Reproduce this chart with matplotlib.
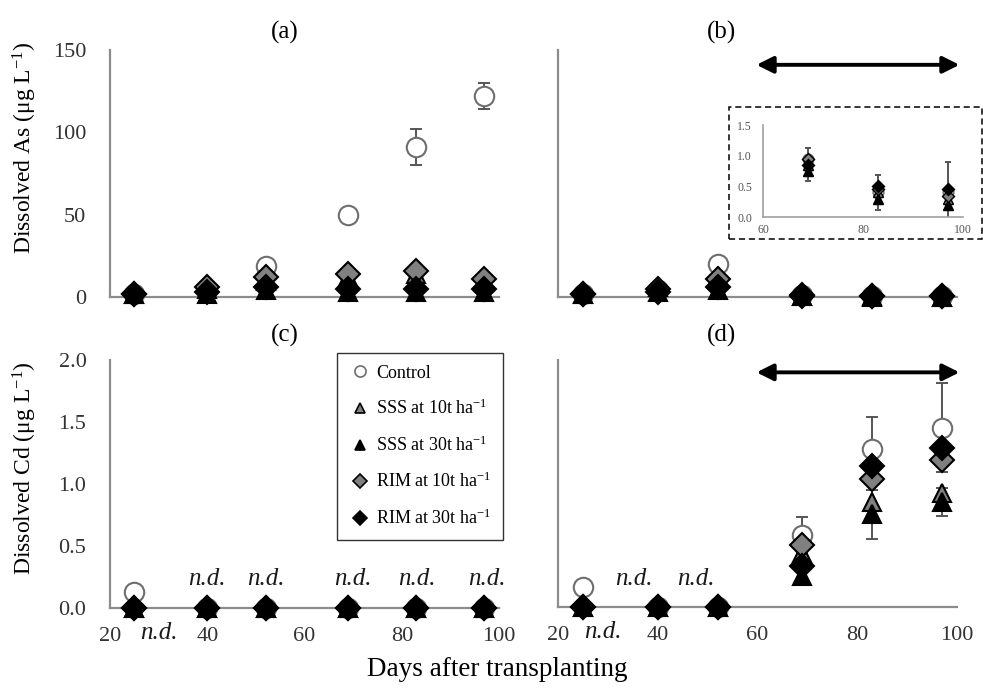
import matplotlib
matplotlib.use("Agg")
import matplotlib.pyplot as plt
from matplotlib.lines import Line2D
from matplotlib.patches import Rectangle
import numpy as np

plt.rcParams['font.family'] = ['Liberation Serif', 'DejaVu Serif']
plt.rcParams['mathtext.fontset'] = 'custom'
plt.rcParams['mathtext.rm'] = 'Liberation Serif'
plt.rcParams['mathtext.it'] = 'Liberation Serif:italic'

# ---------------- data ----------------
days = [25, 40, 52, 69, 83, 97]
series = ["Control", "SSS at 10t ha$^{-1}$", "SSS at 30t ha$^{-1}$",
          "RIM at 10t ha$^{-1}$", "RIM at 30t ha$^{-1}$"]

# (a) dissolved As, no treatment window
as_a_control = [2, 4, 19, 50, 91, 122]
as_a_control_err = [0, 0, 0, 3, 11, 8]
as_a_sss10 = [2, 5, 10, 12, 14, 9]
as_a_sss30 = [2, 2, 4, 3, 3, 3]
as_a_rim10 = [2, 6, 12, 14, 16, 11]
as_a_rim30 = [2, 3, 6, 5, 5, 5]

# (b) dissolved As, with treatment window
as_b_control = [2, 4, 20, 0.95, 0.40, 0.40]
as_b_control_err = [0, 0, 0, 0.17, 0.29, 0.50]
as_b_sss10 = [2, 6, 13, 0.85, 0.40, 0.30]
as_b_sss30 = [2, 3, 4, 0.75, 0.30, 0.20]
as_b_sss30_err = [0, 0, 0, 0.17, 0, 0]
as_b_rim10 = [2, 5, 11, 0.95, 0.45, 0.35]
as_b_rim30 = [2, 3, 6, 0.85, 0.50, 0.45]

# (c) dissolved Cd, no treatment window
cd_c_control = [0.13, 0, 0, 0, 0, 0]
cd_c_sss10 = [0, 0, 0, 0, 0, 0]
cd_c_sss30 = [0, 0, 0, 0, 0, 0]
cd_c_rim10 = [0, 0, 0, 0, 0, 0]
cd_c_rim30 = [0, 0, 0, 0, 0, 0]

# (d) dissolved Cd, with treatment window
cd_d_control = [0.16, 0, 0, 0.58, 1.28, 1.45]
cd_d_control_err = [0, 0, 0, 0.15, 0.26, 0.36]
cd_d_sss10 = [0, 0, 0, 0.44, 0.85, 0.92]
cd_d_sss30 = [0, 0, 0, 0.25, 0.75, 0.85]
cd_d_sss30_err = [0, 0, 0, 0.06, 0.20, 0.11]
cd_d_rim10 = [0, 0, 0, 0.50, 1.04, 1.19]
cd_d_rim30 = [0, 0, 0, 0.33, 1.14, 1.29]

inset_days = [69, 83, 97]

as_yticks = [0, 50, 100, 150]
cd_yticks = [0.0, 0.5, 1.0, 1.5, 2.0]
x_ticks = [20, 40, 60, 80, 100]
inset_yticks = [0.0, 0.5, 1.0, 1.5]
inset_xticks = [60, 80, 100]

# ---------------- styles ----------------
GRAY = '#808080'
SPINE = '#8c8c8c'
TICKC = '#333333'
styles = [
    dict(marker='o', mfc='white', mec='#6e6e6e', mew=1.5, ms=14),
    dict(marker='^', mfc=GRAY, mec='black', mew=1.5, ms=13),
    dict(marker='^', mfc='black', mec='black', mew=1.5, ms=13),
    dict(marker='D', mfc=GRAY, mec='black', mew=1.5, ms=12),
    dict(marker='D', mfc='black', mec='black', mew=1.5, ms=12),
]

W, H = 983, 690
fig = plt.figure(figsize=(W / 100, H / 100), dpi=100)


def px_axes(x0, x1, ytop, ybot):
    return fig.add_axes([x0 / W, 1 - ybot / H, (x1 - x0) / W, (ybot - ytop) / H])


def style_axes(ax, ylim, yticks, ylabels, xlabels, yfmt):
    ax.set_xlim(20, 100)
    ax.set_ylim(*ylim)
    for s in ['top', 'right']:
        ax.spines[s].set_visible(False)
    for s in ['left', 'bottom']:
        ax.spines[s].set_color(SPINE)
        ax.spines[s].set_linewidth(1.6)
    ax.set_xticks(x_ticks)
    ax.set_yticks(yticks)
    ax.tick_params(length=0, labelsize=16, colors=TICKC, pad=14)
    ax.tick_params(axis='y', pad=17)
    if ylabels:
        ax.set_yticklabels([yfmt.format(v) for v in yticks])
    else:
        ax.set_yticklabels([])
    if xlabels:
        ax.set_xticklabels([str(v) for v in x_ticks])
    else:
        ax.set_xticklabels([])


def plot_series(ax, xs, data, errs=None, scale=1.0, clip=False):
    errs = errs or {}
    for i, y in enumerate(data):
        if i in errs:
            ax.errorbar(xs, y, yerr=errs[i], fmt='none', ecolor='#555555',
                        elinewidth=1.4, capsize=4.5 * scale, capthick=1.4,
                        clip_on=clip, zorder=2)
    for i, y in enumerate(data):
        st = dict(styles[i])
        st['ms'] = st['ms'] * scale
        st['mew'] = st['mew'] * (0.7 if scale < 1 else 1)
        ax.plot(xs, y, linestyle='none', clip_on=clip, zorder=3 + i, **st)


ax_a = px_axes(110, 499, 50, 297)
ax_b = px_axes(558, 957, 50, 297)
ax_c = px_axes(110, 499, 360, 608)
ax_d = px_axes(558, 957, 360, 607)

style_axes(ax_a, (0, 150), as_yticks, True, False, '{:g}')
style_axes(ax_b, (0, 150), as_yticks, False, False, '{:g}')
style_axes(ax_c, (0, 2.0), cd_yticks, True, True, '{:.1f}')
style_axes(ax_d, (0, 2.0), cd_yticks, False, True, '{:.1f}')

plot_series(ax_a, days, [as_a_control, as_a_sss10, as_a_sss30, as_a_rim10, as_a_rim30],
            {0: as_a_control_err})
plot_series(ax_b, days, [as_b_control, as_b_sss10, as_b_sss30, as_b_rim10, as_b_rim30])
plot_series(ax_c, days, [cd_c_control, cd_c_sss10, cd_c_sss30, cd_c_rim10, cd_c_rim30])
plot_series(ax_d, days, [cd_d_control, cd_d_sss10, cd_d_sss30, cd_d_rim10, cd_d_rim30],
            {0: cd_d_control_err, 2: cd_d_sss30_err})

# treatment window arrows
for ax, yv in [(ax_b, 141), (ax_d, 1.90)]:
    ax.annotate('', xy=(100.5, yv), xytext=(59.8, yv), xycoords='data',
                arrowprops=dict(arrowstyle='<|-|>,head_length=1.0,head_width=0.5',
                                color='black', lw=2.8, shrinkA=0, shrinkB=0),
                annotation_clip=False)

# n.d. labels
nd_c = [(40, 0.23), (52, 0.23), (70, 0.23), (83.2, 0.23), (97.6, 0.23), (30, -0.2)]
nd_d = [(35.2, 0.23), (47.7, 0.23), (29.0, -0.2)]
for ax, pts in [(ax_c, nd_c), (ax_d, nd_d)]:
    for xv, yv in pts:
        ax.text(xv, yv, 'n.d.', style='italic', fontsize=18, ha='center', va='center',
                color='#1a1a1a')

# inset
rect = Rectangle((729 / W, 1 - 239 / H), 253 / W, 132 / H, transform=fig.transFigure,
                 fill=False, ec='black', lw=1.1, ls=(0, (4, 2.5)), zorder=10)
fig.patches.append(rect)
ax_i = px_axes(763, 963, 125, 217)
ax_i.set_xlim(60, 100)
ax_i.set_ylim(0, 1.5)
for s in ['top', 'right']:
    ax_i.spines[s].set_visible(False)
for s in ['left', 'bottom']:
    ax_i.spines[s].set_color('#a0a0a0')
    ax_i.spines[s].set_linewidth(1.2)
ax_i.set_xticks(inset_xticks)
ax_i.set_yticks(inset_yticks)
ax_i.set_yticklabels(['{:.1f}'.format(v) for v in inset_yticks])
ax_i.tick_params(length=0, labelsize=8.5, colors='#555555')
ax_i.tick_params(axis='y', pad=8)
ax_i.tick_params(axis='x', pad=5)
ax_i.patch.set_alpha(0)
plot_series(ax_i, inset_days,
            [as_b_control[3:], as_b_sss10[3:], as_b_sss30[3:], as_b_rim10[3:], as_b_rim30[3:]],
            {0: as_b_control_err[3:], 2: as_b_sss30_err[3:]}, scale=0.55, clip=True)

# titles
for lab, (x, y) in zip(['(a)', '(b)', '(c)', '(d)'],
                       [(285, 32), (722, 32), (285, 335), (722, 335)]):
    fig.text(x / W, 1 - y / H, lab, fontsize=18, ha='center', va='center')

# axis labels
fig.text(25 / W, 1 - 148 / H, r'Dissolved As ($\mathregular{\mu}$g L$^{-1}$)', rotation=90,
         fontsize=17, ha='center', va='center')
fig.text(25 / W, 1 - 468 / H, r'Dissolved Cd ($\mathregular{\mu}$g L$^{-1}$)', rotation=90,
         fontsize=17, ha='center', va='center')
fig.text(497 / W, 1 - 670 / H, 'Days after transplanting', fontsize=19.5,
         ha='center', va='center')

# legend
handles = []
for i, lab in enumerate(series):
    st = dict(styles[i])
    st['ms'] = 7 if i else 8
    st['mew'] = 1.2
    handles.append(Line2D([], [], linestyle='none', **st))
leg = fig.legend(handles, series, loc='upper left',
                 bbox_to_anchor=(337 / W, 1 - 353 / H), frameon=True, fancybox=False,
                 edgecolor='black', fontsize=13, labelspacing=0.95, handletextpad=0.3,
                 handlelength=1.2, borderpad=0.65, borderaxespad=0)
leg.get_frame().set_linewidth(1.0)

fig.savefig('out.png', dpi=100)
